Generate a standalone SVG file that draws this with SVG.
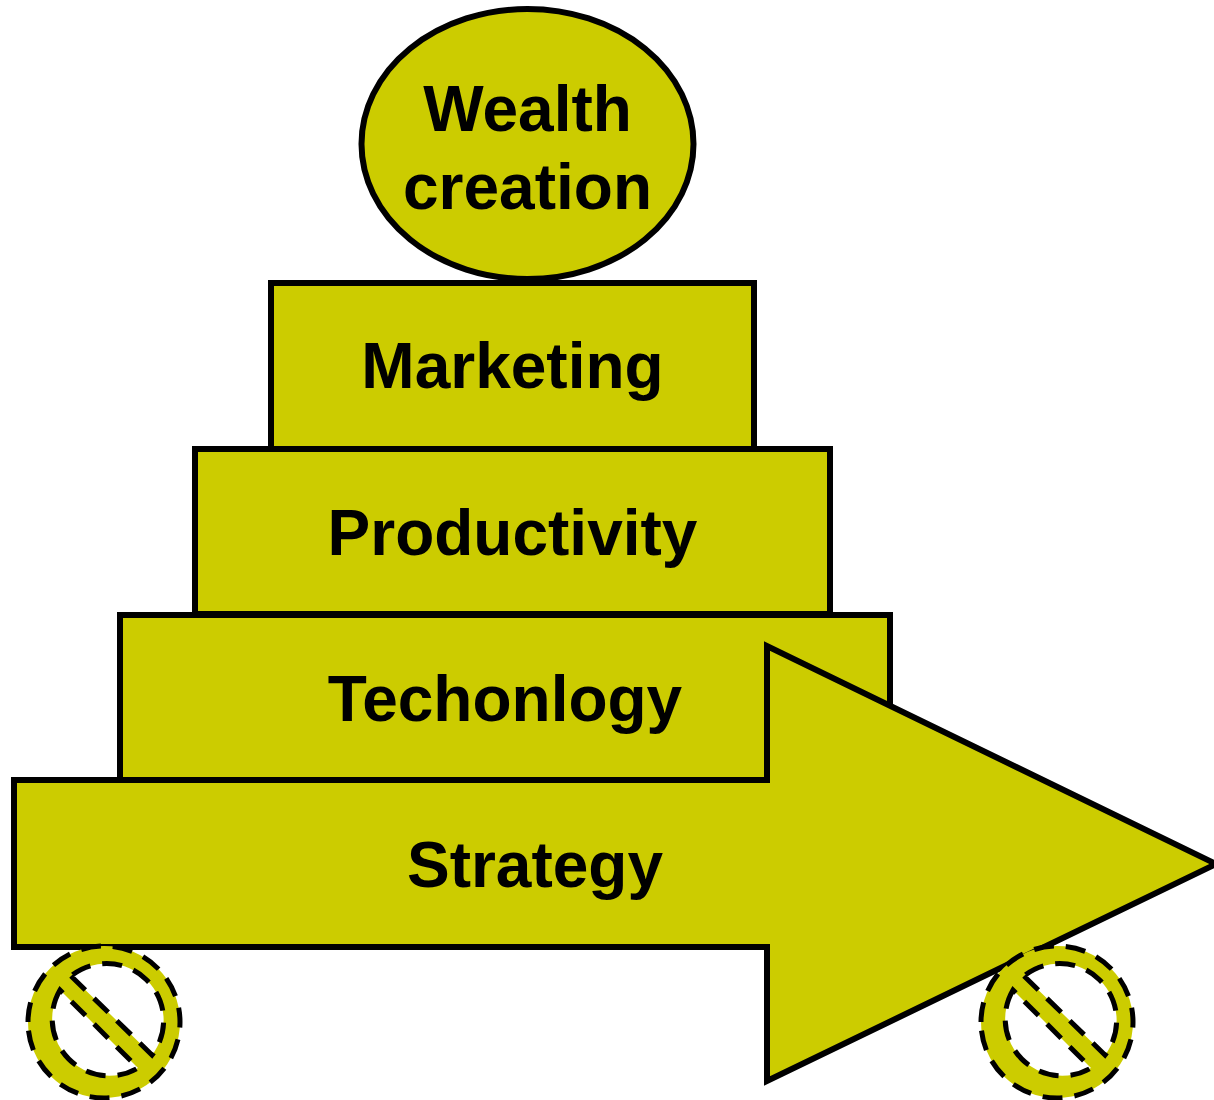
<svg xmlns="http://www.w3.org/2000/svg" width="1214" height="1100" viewBox="0 0 1214 1100">
<defs>
<style>
.s{fill:#cccc00;stroke:#000;stroke-width:6;stroke-miterlimit:10}
.t{font-family:"Liberation Sans",Arial,sans-serif;font-weight:700;font-size:64px;fill:#000;text-anchor:middle}
.w{fill:#cccc00;fill-rule:evenodd;stroke:#000;stroke-width:5;stroke-dasharray:20 12}
</style>
<path id="no" d="M28 1022A76 76 0 1 1 180 1022A76 76 0 1 1 28 1022ZM71 976L152 1055A57 57 0 0 0 71 976ZM60 990A57 57 0 0 0 138 1068Z"/>
</defs>
<rect width="1214" height="1100" fill="#fff"/>
<g id="wealth"><ellipse class="s" cx="527.500" cy="144" rx="166" ry="135"/><text class="t" x="527.500" y="131">Wealth</text><text class="t" x="527.500" y="209">creation</text></g>
<g id="marketing"><rect class="s" x="271" y="283" width="483" height="166"/><text class="t" x="512.500" y="388">Marketing</text></g>
<g id="productivity"><rect class="s" x="195" y="449" width="635" height="165"/><text class="t" x="512.500" y="555">Productivity</text></g>
<g id="technology"><rect class="s" x="120" y="615" width="770" height="166"/><text class="t" x="505" y="721">Techonlogy</text></g>
<g id="strategy"><path class="s" d="M14 780H767V646L1216 864L767 1081V947H14Z"/><text class="t" x="535" y="887">Strategy</text></g>
<g id="wheel-left"><use href="#no" class="w"/></g>
<g id="wheel-right"><use href="#no" class="w" x="953"/></g>
<g id="connectors"></g>
</svg>
